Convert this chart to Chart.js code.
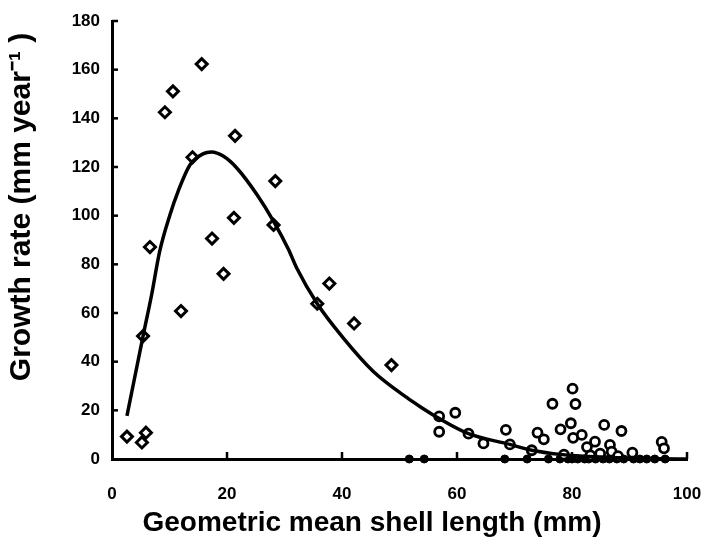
<!DOCTYPE html>
<html>
<head>
<meta charset="utf-8">
<script src="https://cdn.jsdelivr.net/npm/chart.js@4.4.1/dist/chart.umd.min.js"></script>
<style>
  body { margin: 0; background: #fff; }
  #wrap { width: 703px; height: 547px; }
</style>
</head>
<body>
<div id="wrap"><canvas id="growthChart"></canvas></div>
<script>
// young shells (diamonds)
const diamondX = [2.6, 5.2, 5.9, 5.4, 6.6, 9.2, 10.6, 12.0, 14.0, 15.6, 17.4, 19.4, 21.2, 21.4, 28.1, 28.4, 35.7, 37.8, 42.1, 48.6];
const diamondY = [9.2, 6.8, 10.8, 50.5, 87.1, 142.5, 151.1, 60.8, 124.0, 162.3, 90.6, 76.1, 99.1, 132.8, 96.2, 114.2, 63.8, 72.1, 55.7, 38.6];

// older shells (open circles)
const circleX = [56.9, 56.9, 59.7, 62.0, 64.6, 68.5, 69.2, 73.0, 74.0, 75.1, 76.6, 78.0, 79.8, 80.1, 80.2, 80.6, 81.7, 82.6, 84.0, 84.9, 85.6, 86.6, 86.9, 88.6, 90.5, 95.6, 96.0, 78.6, 83.2, 88.0];
const circleY = [17.5, 11.2, 19.0, 10.4, 6.4, 12.0, 6.0, 3.6, 10.8, 8.1, 22.7, 12.2, 14.7, 28.9, 8.7, 22.6, 9.9, 4.9, 7.1, 2.2, 14.0, 5.8, 3.0, 11.5, 2.6, 7.0, 4.4, 1.8, 1.5, 1.2];

// zero growth (filled dots)
const zeroX = [51.7, 54.3, 68.3, 72.2, 75.9, 77.9, 79.3, 80.0, 81.0, 82.2, 82.9, 84.1, 85.4, 86.5, 87.8, 89.0, 90.7, 91.8, 93.0, 94.4, 96.2];
const zeroY = [0, 0, 0, 0, 0, 0, 0, 0, 0, 0, 0, 0, 0, 0, 0, 0, 0, 0, 0, 0, 0];

// fitted curve
const fitX = [2.6, 5.4, 6.9, 8.3, 10.1, 11.5, 13.6, 15.9, 17.3, 19.4, 21.7, 25.2, 28.1, 30.7, 32.1, 35.7, 40.2, 45.4, 51.3, 53.6, 57.0, 62.0, 69.2, 73.0, 77.9, 83.0, 88.3, 95.0, 100];
const fitY = [17.7, 50.5, 67.6, 85.4, 100.5, 110, 121, 125.5, 126.2, 124.4, 119.6, 108.7, 97.7, 86.1, 78.6, 63.8, 49.8, 36.1, 25.2, 21.5, 16.5, 10.4, 6.0, 3.6, 1.9, 1.0, 0.5, 0.1, 0];

const xTitle = 'Geometric mean shell length (mm)';
const yTitle = 'Growth rate (mm year\u207B\u00B9 )';

const pts = (xs, ys) => xs.map((x, i) => ({x: x, y: ys[i]}));
const FONT = '"Liberation Sans", Arial, sans-serif';

const innerTicks = {
    id: 'innerTicks',
    afterDatasetsDraw(chart) {
        const {ctx, chartArea, scales} = chart;
        ctx.save();
        ctx.strokeStyle = '#000';
        ctx.lineWidth = 2.5;
        scales.x.ticks.forEach(t => {
            if (t.value === 0) return;
            const px = scales.x.getPixelForValue(t.value);
            ctx.beginPath();
            ctx.moveTo(px, chartArea.bottom);
            ctx.lineTo(px, chartArea.bottom - 7);
            ctx.stroke();
        });
        scales.y.ticks.forEach(t => {
            if (t.value === 0) return;
            const py = scales.y.getPixelForValue(t.value);
            ctx.beginPath();
            ctx.moveTo(chartArea.left, py);
            ctx.lineTo(chartArea.left + 6, py);
            ctx.stroke();
        });
        ctx.restore();
    }
};

const axisTitles = {
    id: 'axisTitles',
    afterDraw(chart) {
        const {ctx, chartArea} = chart;
        ctx.save();
        ctx.fillStyle = '#000';
        ctx.textAlign = 'center';
        ctx.textBaseline = 'middle';
        ctx.font = 'bold 28px ' + FONT;
        ctx.fillText(xTitle, chartArea.left + 260, chartArea.bottom + 64);
        ctx.translate(22, chartArea.top + 186);
        ctx.rotate(-Math.PI / 2);
        ctx.font = 'bold 30px ' + FONT;
        ctx.fillText(yTitle, 0, 0);
        ctx.restore();
    }
};

new Chart(document.getElementById('growthChart'), {
    type: 'scatter',
    data: {
        datasets: [
            {
                label: 'fit',
                data: pts(fitX, fitY),
                showLine: true,
                borderColor: '#000',
                borderWidth: 3.5,
                pointRadius: 0,
                cubicInterpolationMode: 'monotone',
                clip: false,
                order: 0
            },
            {
                label: 'diamonds',
                data: pts(diamondX, diamondY),
                pointStyle: 'rectRot',
                pointRadius: 5.5,
                pointBorderWidth: 3,
                pointBorderColor: '#000',
                pointBackgroundColor: '#fff',
                clip: false,
                order: 1
            },
            {
                label: 'circles',
                data: pts(circleX, circleY),
                pointStyle: 'circle',
                pointRadius: 4.5,
                pointBorderWidth: 2.8,
                pointBorderColor: '#000',
                pointBackgroundColor: '#fff',
                clip: false,
                order: 2
            },
            {
                label: 'zero',
                data: pts(zeroX, zeroY),
                pointStyle: 'circle',
                pointRadius: 4,
                pointBorderWidth: 1,
                pointBorderColor: '#000',
                pointBackgroundColor: '#000',
                clip: false,
                order: 3
            }
        ]
    },
    options: {
        responsive: true,
        maintainAspectRatio: false,
        animation: false,
        layout: {padding: {top: 21, right: 16, left: 0, bottom: 0}},
        plugins: {legend: {display: false}, tooltip: {enabled: false}},
        scales: {
            x: {
                min: 0, max: 100,
                afterFit(scale) { scale.height = 88; scale.paddingLeft = 0; scale.paddingRight = 0; },
                grid: {display: false, drawTicks: false},
                border: {display: true, color: '#000', width: 3},
                ticks: {stepSize: 20, color: '#000', padding: 25, font: {family: FONT, size: 17, weight: 'bold'}}
            },
            y: {
                min: 0, max: 180,
                afterFit(scale) { scale.width = 112; scale.paddingTop = 0; scale.paddingBottom = 0; },
                grid: {display: false, drawTicks: false},
                border: {display: true, color: '#000', width: 3},
                ticks: {stepSize: 20, color: '#000', padding: 12, font: {family: FONT, size: 17, weight: 'bold'}}
            }
        }
    },
    plugins: [innerTicks, axisTitles]
});
</script>
</body>
</html>
